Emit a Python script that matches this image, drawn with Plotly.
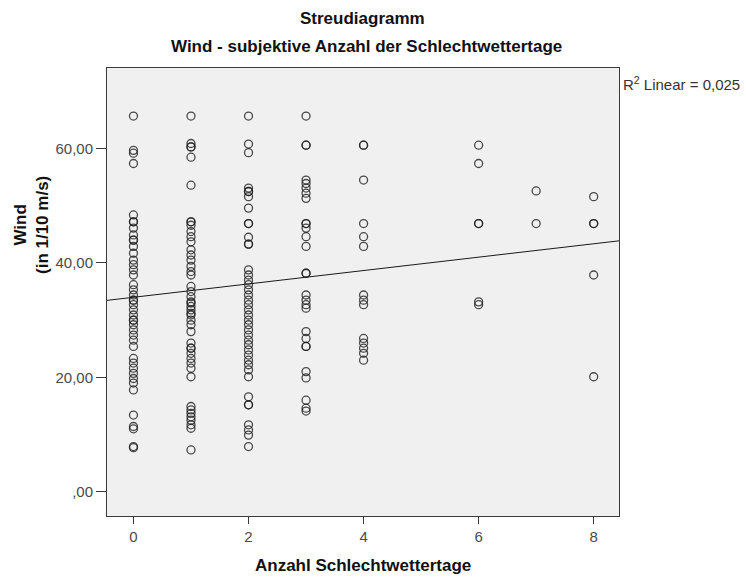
import plotly.graph_objects as go

# ---- data ----
days = [0, 1, 2, 3, 4, 6, 7, 8]
wind_day0 = [65.7, 59.7, 59.2, 57.4, 48.4, 47.2, 47.2, 46.1, 44.9, 44.0, 44.0, 42.9, 41.7,
             40.5, 39.7, 38.8, 37.9, 36.2, 35.3, 34.4, 33.5, 33.5, 32.7, 31.8, 30.9, 30.0,
             30.0, 29.2, 28.3, 27.4, 26.5, 25.4, 23.3, 22.5, 21.6, 20.7, 19.8, 19.0, 17.8,
             13.4, 11.4, 11.0, 7.9, 7.7]
wind_day1 = [65.7, 60.9, 60.3, 60.3, 58.5, 53.6, 47.2, 47.2, 46.6, 45.5, 44.6, 43.7, 42.3,
             41.4, 40.5, 39.4, 38.5, 37.9, 35.9, 35.0, 34.1, 33.2, 33.0, 32.4, 31.8, 31.2,
             30.9, 30.0, 29.2, 28.0, 26.0, 25.1, 25.1, 24.2, 23.3, 22.5, 21.6, 20.1, 14.9,
             14.3, 13.7, 13.1, 12.5, 11.7, 11.1, 7.3]
wind_day2 = [65.7, 60.8, 59.3, 53.1, 52.5, 52.5, 51.6, 49.6, 46.9, 46.9, 44.5, 43.3, 43.3,
             38.8, 37.9, 37.0, 36.2, 35.3, 34.4, 33.5, 32.7, 31.8, 30.9, 30.0, 29.2, 28.3,
             27.4, 26.5, 25.7, 24.8, 23.9, 23.0, 22.2, 21.3, 20.1, 16.6, 15.2, 15.2, 11.7,
             10.8, 9.9, 7.9]
wind_day3 = [65.7, 60.6, 60.6, 54.5, 53.9, 53.1, 52.2, 51.3, 46.9, 46.9, 46.1, 44.6, 42.9,
             38.2, 38.2, 34.4, 33.5, 32.7, 32.1, 28.0, 26.8, 25.4, 25.4, 21.0, 19.9, 16.0,
             14.6, 14.1]
wind_day4 = [60.6, 60.6, 54.5, 46.9, 44.6, 42.9, 34.4, 33.5, 32.7, 26.8, 26.0, 25.1, 24.2, 23.0]
wind_day6 = [60.6, 57.4, 46.9, 46.9, 33.2, 32.7]
wind_day7 = [52.6, 46.9]
wind_day8 = [51.6, 46.9, 46.9, 37.9, 20.1]
wind_groups = [wind_day0, wind_day1, wind_day2, wind_day3, wind_day4, wind_day6, wind_day7, wind_day8]

fit_intercept = 34.0
fit_slope = 1.17
r2_text = "R<sup>2</sup> Linear = 0,025"

y_tickvals = [0, 20, 40, 60]
y_ticktext = [",00", "20,00", "40,00", "60,00"]
x_tickvals = [0, 2, 4, 6, 8]
x_ticktext = ["0", "2", "4", "6", "8"]

x_range = [-0.46, 8.44]
y_range = [-4.25, 74.1]

# ---- build ----
xs, ys = [], []
for d, grp in zip(days, wind_groups):
    xs += [d] * len(grp)
    ys += grp

W, H = 746, 579
L, R, T, B = 107, 127, 68, 63
pw, ph = W - L - R, H - T - B

def px_x(p):
    return (p - L) / pw

def px_y(p):
    return (H - B - p) / ph

FONT = "Liberation Sans, Arial, sans-serif"

fig = go.Figure()
fig.add_trace(go.Scatter(
    x=xs, y=ys, mode="markers",
    marker=dict(symbol="circle-open", size=8, color="rgba(30,30,30,0.8)",
                line=dict(width=1.3, color="rgba(30,30,30,0.8)")),
    hoverinfo="x+y", showlegend=False))

fig.add_trace(go.Scatter(
    x=x_range, y=[fit_intercept + fit_slope * v for v in x_range],
    mode="lines", line=dict(color="#1a1a1a", width=1), showlegend=False, hoverinfo="skip"))

fig.update_layout(
    width=W, height=H, margin=dict(l=L, r=R, t=T, b=B, autoexpand=False),
    paper_bgcolor="white", plot_bgcolor="#f0f0f0",
    font=dict(family=FONT, color="#333333", size=15),
    xaxis=dict(range=x_range, tickvals=x_tickvals, ticktext=x_ticktext,
               showgrid=False, zeroline=False, showline=True, mirror=True,
               linecolor="#3a3a3a", linewidth=1, ticks="outside", ticklen=7,
               tickcolor="#3a3a3a", tickfont=dict(size=15, color="#4a4a4a")),
    yaxis=dict(range=y_range, tickvals=y_tickvals, ticktext=y_ticktext,
               showgrid=False, zeroline=False, showline=True, mirror=True,
               linecolor="#3a3a3a", linewidth=1, ticks="outside", ticklen=10,
               tickcolor="#3a3a3a", tickfont=dict(size=15, color="#4a4a4a")),
)

ann = [
    dict(text="<b>Streudiagramm</b>", x=px_x(362), y=px_y(18), font=dict(size=17, color="#111")),
    dict(text="<b>Wind - subjektive Anzahl der Schlechtwettertage</b>", x=px_x(366), y=px_y(46),
         font=dict(size=17, color="#111")),
    dict(text="<b>Anzahl Schlechtwettertage</b>", x=px_x(363), y=px_y(565),
         font=dict(size=17, color="#111")),
    dict(text="<b>Wind</b><br><b>(in 1/10 m/s)</b>", x=px_x(31), y=px_y(225), textangle=-90,
         font=dict(size=17, color="#111")),
]
for a in ann:
    fig.add_annotation(xref="paper", yref="paper", showarrow=False,
                       xanchor="center", yanchor="middle", **a)
fig.add_annotation(xref="paper", yref="paper", showarrow=False, text=r2_text,
                   x=px_x(621), y=px_y(83), xanchor="left", yanchor="middle",
                   font=dict(size=15, color="#333333"))

fig.write_html("out.html", config={"displayModeBar": False},
               post_script="document.body.style.margin='0';")
